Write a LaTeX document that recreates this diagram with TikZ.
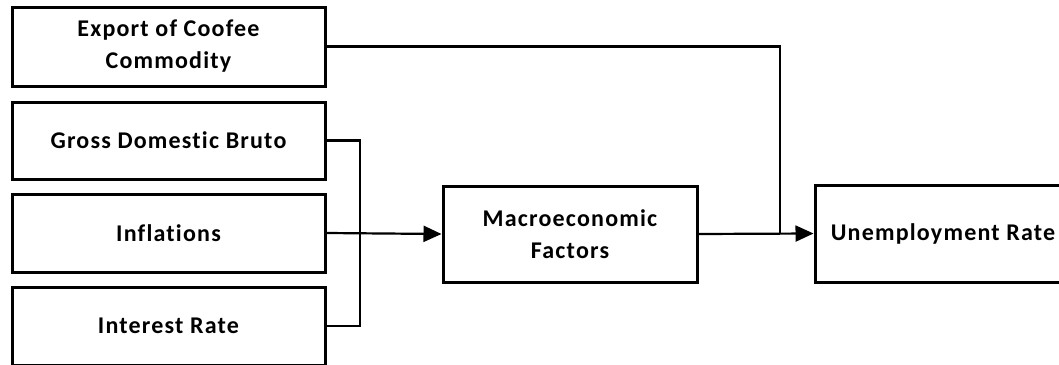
\documentclass[tikz,border=0pt]{standalone}
\usepackage{fontspec}
\setmainfont{Carlito}[LetterSpace=5,Ligatures=CommonOff]
\usetikzlibrary{arrows.meta}
\begin{document}
\begin{tikzpicture}[x=1pt,y=-1pt,
	factor/.style={draw, line width=3pt, align=center, font=\fontsize{24}{32}\selectfont\bfseries, inner sep=0pt},
	link/.style={line width=2.2pt}]
		
		\useasboundingbox (0,0) rectangle (1059,364);
		
		\node[factor, minimum width=313pt, minimum height=79pt] (nodeExport) at (168.5,46.5){Export of Coofee\\Commodity};
		\node[factor, minimum width=313pt, minimum height=77pt] (nodeGDB) at (168.5,140.5){Gross Domestic Bruto};
		\node[factor, minimum width=313pt, minimum height=78pt] (nodeInfl) at (168.5,233){Inflations};
		\node[factor, minimum width=313pt, minimum height=78pt] (nodeRate) at (168.5,326){Interest Rate};
		\node[factor, minimum width=254pt, minimum height=96pt] (nodeMacro) at (570,234){Macroeconomic\\Factors};
		\node[factor, minimum width=256pt, minimum height=97pt] (nodeUnemp) at (943,233.5){Unemployment Rate};
		
		\coordinate (busTop) at (360,140.5);
		\coordinate (joint) at (780,233.5);
		
		%%%%% Arrows %%%%%%
		\draw[link] (nodeGDB.east)--(busTop)|-(nodeRate.east);
		\draw[link,-{Triangle[length=18pt,width=16pt]}] (nodeInfl.east)--(nodeMacro.west);
		\draw[link] (nodeExport.east)-|(joint);
		\draw[link,-{Triangle[length=18pt,width=16pt]}] (nodeMacro.east)--(nodeUnemp.west);
		
		\end{tikzpicture}
\end{document}
